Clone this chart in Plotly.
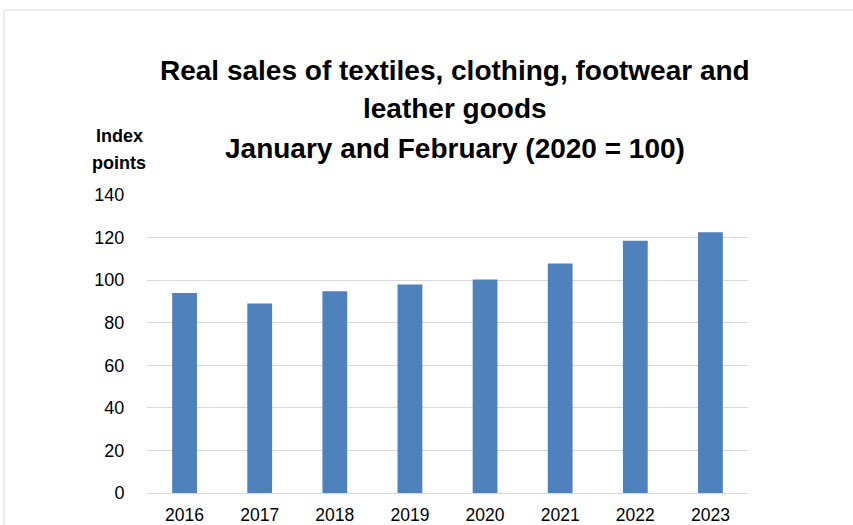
import plotly.graph_objects as go

# Real sales index, January and February of each year (2020 = 100)
years = ["2016", "2017", "2018", "2019", "2020", "2021", "2022", "2023"]
index_points = [94.0, 89.0, 94.8, 98.0, 100.3, 107.8, 118.5, 122.5]
y_ticks = [0, 20, 40, 60, 80, 100, 120, 140]

title_lines = [
    "Real sales of textiles, clothing, footwear and",
    "leather goods",
    "January and February (2020 = 100)",
]

W, H = 853, 525
ML, MR, MT, MB = 147, 105, 195, 32
PW = W - ML - MR
PH = H - MT - MB

fig = go.Figure(
    go.Bar(
        x=years,
        y=index_points,
        marker=dict(color="#4F81BD", line=dict(width=0)),
        hoverinfo="x+y",
    )
)

FONT = "Liberation Sans, Arial, sans-serif"

fig.update_layout(
    width=W,
    height=H,
    margin=dict(l=ML, r=MR, t=MT, b=MB, autoexpand=False),
    paper_bgcolor="white",
    plot_bgcolor="white",
    bargap=0.67,
    showlegend=False,
    font=dict(family=FONT, color="#000000"),
    xaxis=dict(
        type="category",
        automargin=False,
        showgrid=False,
        showline=True,
        linecolor="#d9d9d9",
        linewidth=1,
        ticks="outside",
        ticklen=6,
        tickcolor="rgba(0,0,0,0)",
        tickfont=dict(size=17.5, color="#000000"),
    ),
    yaxis=dict(
        range=[0, 140],
        tickvals=y_ticks,
        automargin=False,
        showgrid=True,
        gridcolor="#d9d9d9",
        gridwidth=1,
        zeroline=False,
        showline=False,
        ticks="outside",
        ticklen=18,
        tickcolor="rgba(0,0,0,0)",
        tickfont=dict(size=18, color="#000000"),
    ),
)

# Chart frame
fig.add_shape(
    type="rect",
    xref="paper", yref="paper",
    x0=(4 - ML) / PW, x1=(W + 20 - ML) / PW,
    y0=-(H + 20 - MT - PH) / PH, y1=(MT - 10 + PH) / PH,
    line=dict(color="#d9d9d9", width=1),
    fillcolor="rgba(0,0,0,0)",
    layer="below",
)

# Title lines
title_y = [70, 108, 148]
for text, ypix in zip(title_lines, title_y):
    fig.add_annotation(
        text=f"<b>{text}</b>",
        xref="paper", yref="paper",
        x=(455 - ML) / PW,
        y=(MT + PH - ypix) / PH,
        xanchor="center", yanchor="middle",
        showarrow=False,
        font=dict(size=28, family=FONT, color="#000000"),
    )

# Axis title
for text, ypix in zip(["Index", "points"], [136, 163]):
    fig.add_annotation(
        text=f"<b>{text}</b>",
        xref="paper", yref="paper",
        x=(119 - ML) / PW,
        y=(MT + PH - ypix) / PH,
        xanchor="center", yanchor="middle",
        showarrow=False,
        font=dict(size=18, family=FONT, color="#000000"),
    )

fig.write_html("out.html")
